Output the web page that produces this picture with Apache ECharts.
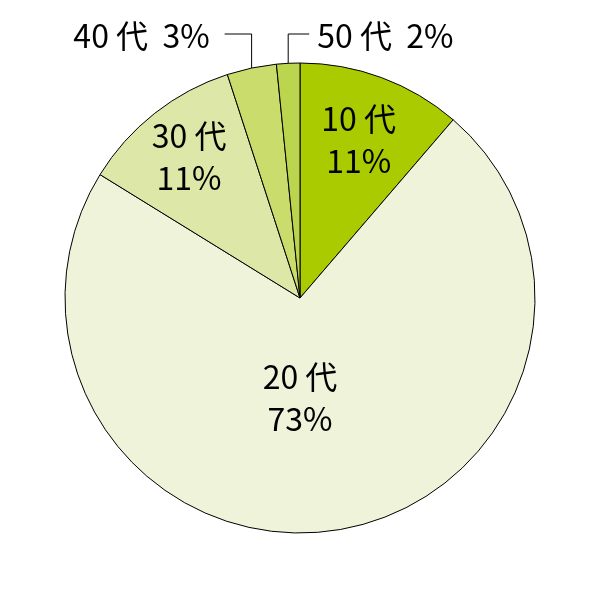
<!DOCTYPE html>
<html><head><meta charset="utf-8">
<script src="https://cdn.jsdelivr.net/npm/echarts@6/dist/echarts.min.js"></script>
<style>html,body{margin:0;padding:0;background:#fff}#c{width:600px;height:600px}</style>
</head><body><div id="c"></div>
<script>
const categories = ['10 代', '20 代', '30 代', '40 代', '50 代'];
const values = [11.3, 72.5, 11.2, 3.4, 1.6];
const colors = ['#aacb00', '#eff3da', '#dde7a8', '#c9dc6c', '#bcd54e'];

const CX = 300, CY = 298, R = 235;
const chart = echarts.init(document.getElementById('c'));
const fontFamily = '"Noto Sans CJK JP", "Noto Sans", sans-serif';
const radialScale = [1.4, 0.84, 1.49];

chart.setOption({
  animation: false,
  series: [{
    type: 'pie',
    center: [CX, CY],
    radius: R,
    startAngle: 90,
    clockwise: true,
    data: categories.map((c, i) => ({
      name: c, value: values[i],
      itemStyle: { color: colors[i] },
      label: i < 3 ? {
        position: 'inside',
        formatter: p => p.name + '\n' + Math.round(p.value) + '%'
      } : {
        position: 'outside',
        overflow: 'none',
        formatter: p => p.name + '  ' + Math.round(p.value) + '%'
      },
      labelLine: { show: i >= 3 }
    })),
    itemStyle: { borderColor: '#000', borderWidth: 1 },
    label: { color: '#000', fontSize: 32, lineHeight: 42, fontFamily: fontFamily, overflow: 'none' },
    labelLine: { lineStyle: { color: '#000', width: 1 } },
    labelLayout: function (params) {
      const i = params.dataIndex;
      const lr = params.labelRect;
      const mx = lr.x + lr.width / 2, my = lr.y + lr.height / 2;
      if (i < 3) {
        const k = radialScale[i];
        let x = CX + (mx - CX) * k, y = CY + (my - CY) * k;
        if (i === 1) x = CX;
        return { x: x, y: y, align: 'center', verticalAlign: 'middle' };
      }
      const pts = params.labelLinePoints;
      const ex = pts[0][0], ey = pts[0][1];
      const topY = 34;
      if (i === 3) {
        return {
          x: ex - 42, y: topY + 2, align: 'right', verticalAlign: 'middle',
          labelLinePoints: [[ex, ey + 14], [ex, topY], [ex - 27, topY]]
        };
      }
      return {
        x: ex + 29, y: topY + 2, align: 'left', verticalAlign: 'middle',
        labelLinePoints: [[ex, ey + 10], [ex, topY], [ex + 21, topY]]
      };
    }
  }]
});
</script></body></html>
